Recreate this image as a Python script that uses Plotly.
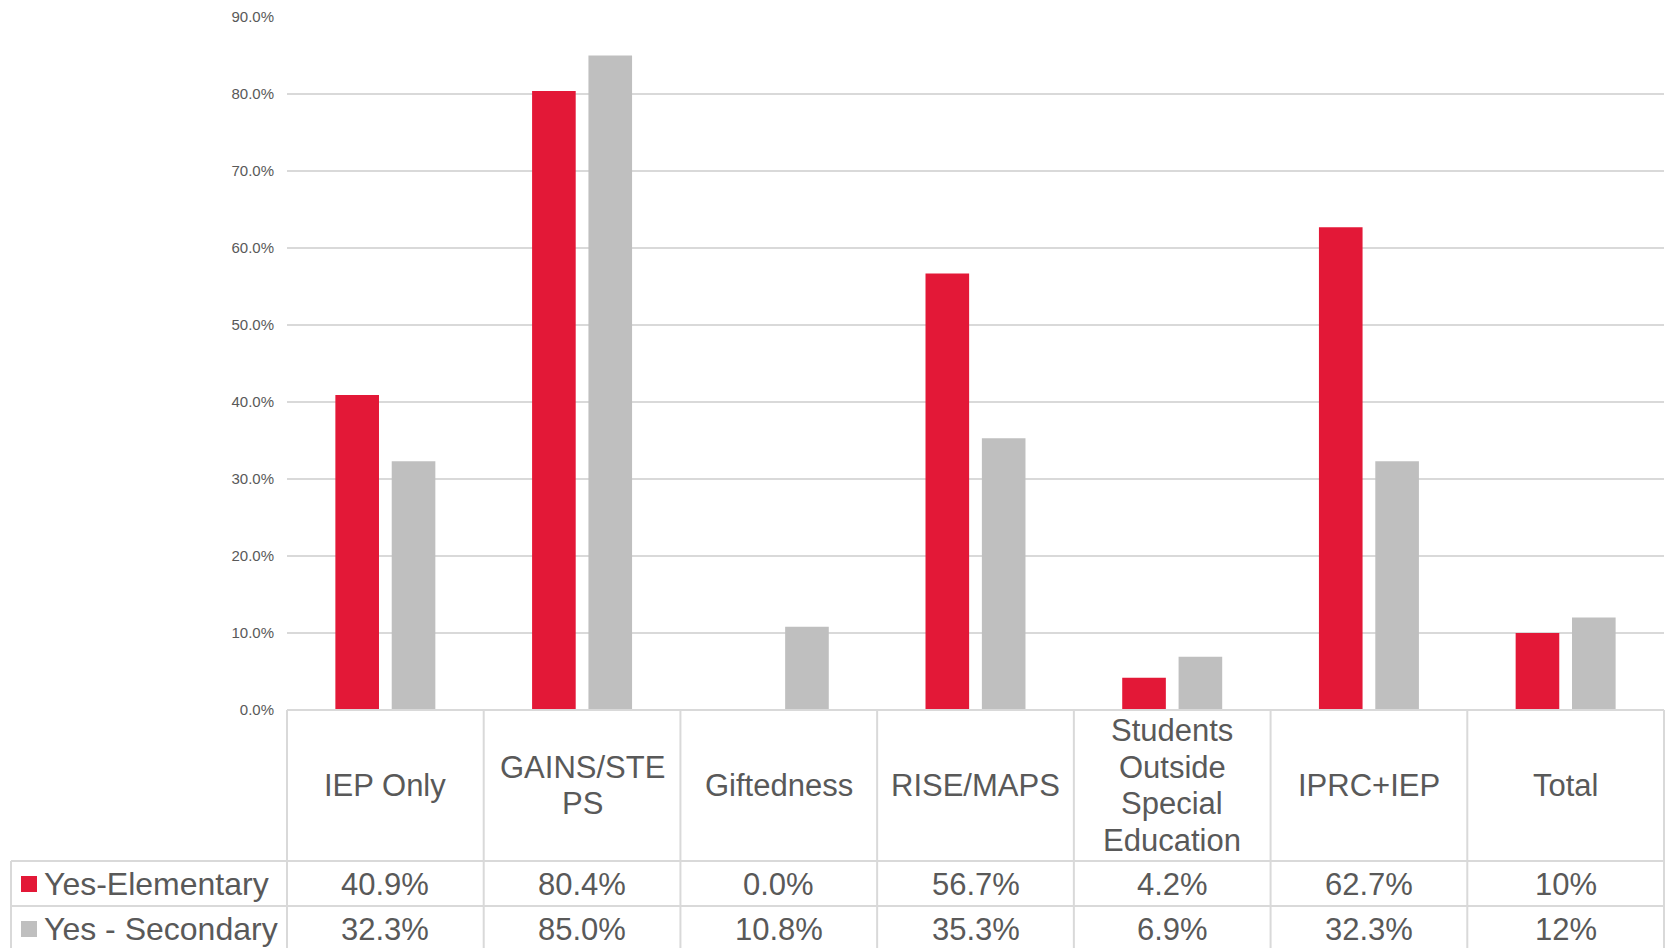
import plotly.graph_objects as go

# ---- data ----
categories = ["IEP Only", "GAINS/STEPS", "Giftedness", "RISE/MAPS",
              "Students Outside Special Education", "IPRC+IEP", "Total"]
category_labels = ["IEP Only", "GAINS/STE<br>PS", "Giftedness", "RISE/MAPS",
                   "Students<br>Outside<br>Special<br>Education", "IPRC+IEP", "Total"]
elementary = [40.9, 80.4, 0.0, 56.7, 4.2, 62.7, 10.0]
secondary = [32.3, 85.0, 10.8, 35.3, 6.9, 32.3, 12.0]
decimals = [1, 1, 1, 1, 1, 1, 0]
series_names = ["Yes-Elementary", "Yes - Secondary"]
y_ticks = [0, 10, 20, 30, 40, 50, 60, 70, 80, 90]

RED = "#E31837"
GREY = "#BFBFBF"
TXT = "#595959"
BORDER = "#D9D9D9"
FONT = "Liberation Sans, Arial, sans-serif"

W, H = 1669, 948
ML, MR, MT, MB = 287, 5, 17, 238
PW, PH = W - ML - MR, H - MT - MB
Y0 = MT + PH  # pixel y of plot bottom
LINE_H = 36.5


def py(ypix):
    return (Y0 - ypix) / PH


def px(xpix):
    return (xpix - ML) / PW


row_lines = [Y0, 861, 906, 951]

fig = go.Figure()
fig.add_trace(go.Bar(x=categories, y=elementary, name=series_names[0],
                     marker=dict(color=RED, line=dict(width=0))))
fig.add_trace(go.Bar(x=categories, y=secondary, name=series_names[1],
                     marker=dict(color=GREY, line=dict(width=0))))

shapes = []
shapes.append(dict(type="line", xref="paper", yref="paper", x0=0, x1=1,
                   y0=py(row_lines[0]), y1=py(row_lines[0]),
                   line=dict(color=BORDER, width=2)))
for yp in row_lines[1:]:
    shapes.append(dict(type="line", xref="paper", yref="paper", x0=px(11), x1=1,
                       y0=py(yp), y1=py(yp), line=dict(color=BORDER, width=2)))
n = len(categories)
for i in range(n + 1):
    shapes.append(dict(type="line", xref="paper", yref="paper", x0=i / n, x1=i / n,
                       y0=py(row_lines[0]), y1=py(row_lines[-1]),
                       line=dict(color=BORDER, width=2)))
shapes.append(dict(type="line", xref="paper", yref="paper", x0=px(11), x1=px(11),
                   y0=py(row_lines[1]), y1=py(row_lines[-1]),
                   line=dict(color=BORDER, width=2)))

annotations = []
cat_center = py((row_lines[0] + row_lines[1]) / 2)
for c, lab in zip(categories, category_labels):
    lines = lab.split("<br>")
    k = len(lines)
    for j, t in enumerate(lines):
        annotations.append(dict(x=c, xref="x", y=cat_center, yref="paper", text=t,
                                yshift=((k - 1) / 2 - j) * LINE_H,
                                showarrow=False, xanchor="center", yanchor="middle",
                                font=dict(family=FONT, size=31, color=TXT)))

for r, (vals, col) in enumerate([(elementary, RED), (secondary, GREY)]):
    yc = py(884) if r == 0 else py(929)
    for c, v, d in zip(categories, vals, decimals):
        annotations.append(dict(x=c, xref="x", y=yc, yref="paper",
                                text=f"{v:.{d}f}%", showarrow=False,
                                xanchor="center", yanchor="middle",
                                font=dict(family=FONT, size=31, color=TXT)))
    ypc = 884 if r == 0 else 929
    shapes.append(dict(type="rect", xref="paper", yref="paper",
                       x0=px(21), x1=px(37), y0=py(ypc - 8), y1=py(ypc + 8),
                       fillcolor=col, line=dict(width=0)))
    annotations.append(dict(x=px(42), xref="paper", y=py(ypc), yref="paper",
                            text=series_names[r], showarrow=False,
                            xanchor="left", yanchor="middle",
                            font=dict(family=FONT, size=32, color=TXT)))

fig.update_layout(
    width=W, height=H,
    margin=dict(l=ML, r=MR, t=MT, b=MB, pad=0),
    paper_bgcolor="white", plot_bgcolor="white",
    barmode="group", bargap=0.427, bargroupgap=0.226,
    showlegend=False,
    shapes=shapes, annotations=annotations,
    xaxis=dict(range=[-0.5, n - 0.5], showticklabels=False, showgrid=False,
               zeroline=False, showline=False, ticks=""),
    yaxis=dict(range=[0, 90], tickmode="array", tickvals=y_ticks,
               ticktext=[f"{v:.1f}%" for v in y_ticks],
               showgrid=True, gridcolor=BORDER, gridwidth=1.5, zeroline=False,
               showline=False, ticks="", ticklabelstandoff=12,
               tickfont=dict(family=FONT, size=15, color=TXT)),
)

fig.write_html("out.html")
